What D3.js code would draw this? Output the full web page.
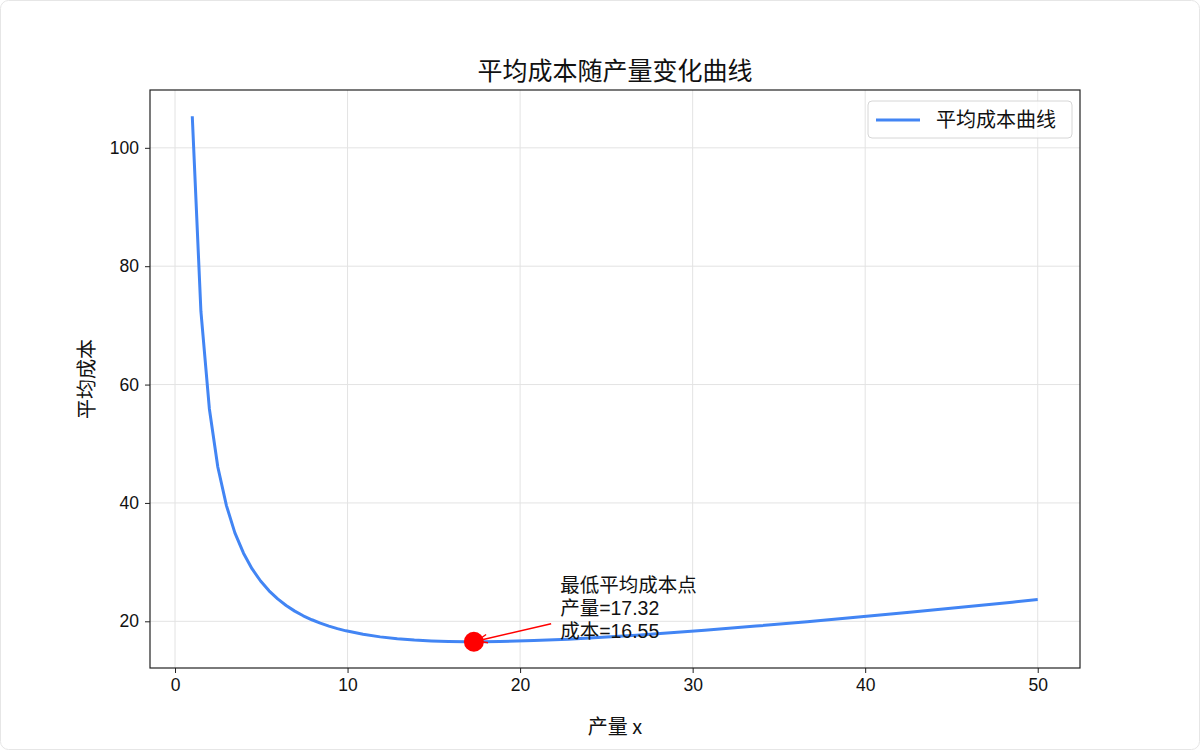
<!DOCTYPE html>
<html>
<head>
<meta charset="utf-8">
<script src="https://cdn.jsdelivr.net/npm/d3@7"></script>
<style>
  body { margin: 0; background: #fff; }
  #chart { width: 1200px; height: 750px; }
  text { font-family: "Noto Sans CJK SC", "DejaVu Sans", sans-serif; }
</style>
</head>
<body>
<div id="chart"></div>
<script>
// data
const qty = [1.00, 1.50, 1.99, 2.48, 2.98, 3.47, 3.97, 4.46, 4.96, 5.45, 5.95, 6.44, 6.94, 7.43, 7.93, 8.42, 8.92, 9.41, 9.91,
    10.90, 11.89, 12.88, 13.87, 14.86, 15.85, 16.84, 17.83, 18.82, 20.80, 22.78, 24.76, 26.74, 28.72, 30.70,
    33.67, 36.64, 39.61, 42.58, 45.55, 48.52, 50.00];
const avgCost = [105.33, 72.39, 55.92, 46.07, 39.55, 34.94, 31.51, 28.89, 26.81, 25.15, 23.79, 22.67, 21.72, 20.93, 20.26, 19.68, 19.19, 18.76, 18.39,
    17.81, 17.37, 17.06, 16.83, 16.68, 16.59, 16.55, 16.55, 16.59, 16.74, 16.98, 17.29, 17.65, 18.05, 18.49,
    19.19, 19.94, 20.73, 21.54, 22.38, 23.23, 23.67];
const minPoint = { x: 17.32, y: 16.55 };
const xTicks = [0, 10, 20, 30, 40, 50];
const yTicks = [20, 40, 60, 80, 100];

const margin = { top: 90, left: 150, right: 120, bottom: 82 };
const width = 1200 - margin.left - margin.right;
const height = 750 - margin.top - margin.bottom;

const svg = d3.select('#chart')
    .append('svg')
    .attr('width', 1200)
    .attr('height', 750);

// faint outer frame
svg.append('rect')
    .attr('x', 0.5).attr('y', 0.5)
    .attr('width', 1199).attr('height', 749)
    .attr('rx', 8)
    .attr('fill', 'none')
    .attr('stroke', '#e6e6e6');

const g = svg.append('g')
    .attr('transform', 'translate(' + margin.left + ',' + margin.top + ')');

const x = d3.scaleLinear().domain([-1.45, 52.45]).range([0, width]);
const y = d3.scaleLinear().domain([12.11, 109.77]).range([height, 0]);

// grid
g.append('g')
    .selectAll('line')
    .data(xTicks)
    .enter()
    .append('line')
    .attr('x1', d => x(d)).attr('x2', d => x(d))
    .attr('y1', 0).attr('y2', height)
    .attr('stroke', '#e3e3e3');
g.append('g')
    .selectAll('line')
    .data(yTicks)
    .enter()
    .append('line')
    .attr('y1', d => y(d)).attr('y2', d => y(d))
    .attr('x1', 0).attr('x2', width)
    .attr('stroke', '#e3e3e3');

// axes
const xAxis = g.append('g')
    .attr('transform', 'translate(0,' + height + ')')
    .call(d3.axisBottom(x).tickValues(xTicks).tickSize(5).tickPadding(6).tickSizeOuter(0));
const yAxis = g.append('g')
    .call(d3.axisLeft(y).tickValues(yTicks).tickSize(5).tickPadding(6).tickSizeOuter(0));
[xAxis, yAxis].forEach(a => {
    a.select('.domain').remove();
    a.selectAll('line').attr('stroke', '#222');
    a.selectAll('text').attr('font-size', 17.5).attr('fill', '#111')
        .style('font-family', '"Liberation Sans", Arial, sans-serif');
});

// line
const line = d3.line()
    .x((d, i) => x(qty[i]))
    .y(d => y(d));
g.append('path')
    .datum(avgCost)
    .attr('d', line)
    .attr('fill', 'none')
    .attr('stroke', '#4285f4')
    .attr('stroke-width', 3)
    .attr('stroke-linejoin', 'round');

// minimum point
g.append('circle')
    .attr('cx', x(minPoint.x))
    .attr('cy', y(minPoint.y))
    .attr('r', 10)
    .attr('fill', 'red');

// annotation
svg.append('defs').append('marker')
    .attr('id', 'arrow')
    .attr('viewBox', '0 0 10 10')
    .attr('refX', 9).attr('refY', 5)
    .attr('markerWidth', 9).attr('markerHeight', 7)
    .attr('orient', 'auto')
    .append('path')
    .attr('d', 'M0,1 L10,5 L0,9')
    .attr('fill', 'none')
    .attr('stroke', 'red')
    .attr('stroke-width', 1.4);

const tx = x(minPoint.x + 5);
g.append('line')
    .attr('x1', tx - 9).attr('y1', y(minPoint.y) - 18)
    .attr('x2', x(minPoint.x) + 4).attr('y2', y(minPoint.y) - 1)
    .attr('stroke', 'red')
    .attr('stroke-width', 1.5)
    .attr('marker-end', 'url(#arrow)');

// one multi-line text block, like the original annotation
const annLines = ['最低平均成本点', '产量=' + minPoint.x.toFixed(2), '成本=' + minPoint.y.toFixed(2)];
g.append('text')
    .attr('x', tx)
    .attr('y', y(minPoint.y) - 50)
    .attr('font-size', 19.5)
    .attr('fill', '#111')
    .style('font-family', '"Liberation Sans", "Noto Sans CJK SC", sans-serif')
    .selectAll('tspan')
    .data(annLines)
    .enter()
    .append('tspan')
    .attr('x', tx)
    .attr('dy', (d, i) => i === 0 ? 0 : 23)
    .text(d => d);

// frame
g.append('rect')
    .attr('width', width).attr('height', height)
    .attr('fill', 'none')
    .attr('stroke', '#222')
    .attr('stroke-width', 1.2);

// legend
const legend = g.append('g').attr('transform', 'translate(' + (width - 212) + ',11)');
legend.append('rect')
    .attr('width', 204).attr('height', 37)
    .attr('rx', 4)
    .attr('fill', '#fff')
    .attr('fill-opacity', 0.8)
    .attr('stroke', '#d6d6d6');
legend.append('line')
    .attr('x1', 8).attr('x2', 52)
    .attr('y1', 19).attr('y2', 19)
    .attr('stroke', '#4285f4')
    .attr('stroke-width', 3);
legend.append('text')
    .attr('x', 68).attr('y', 26)
    .attr('font-size', 20)
    .attr('fill', '#111')
    .text('平均成本曲线');

// titles
svg.append('text')
    .attr('x', margin.left + width / 2)
    .attr('y', 80)
    .attr('text-anchor', 'middle')
    .attr('font-size', 25)
    .attr('fill', '#111')
    .text('平均成本随产量变化曲线');

svg.append('text')
    .attr('x', margin.left + width / 2)
    .attr('y', 734)
    .attr('text-anchor', 'middle')
    .attr('font-size', 20)
    .attr('fill', '#111')
    .text('产量 x');

svg.append('text')
    .attr('transform', 'translate(94,' + (margin.top + height / 2) + ') rotate(-90)')
    .attr('text-anchor', 'middle')
    .attr('font-size', 20)
    .attr('fill', '#111')
    .text('平均成本');
</script>
</body>
</html>
